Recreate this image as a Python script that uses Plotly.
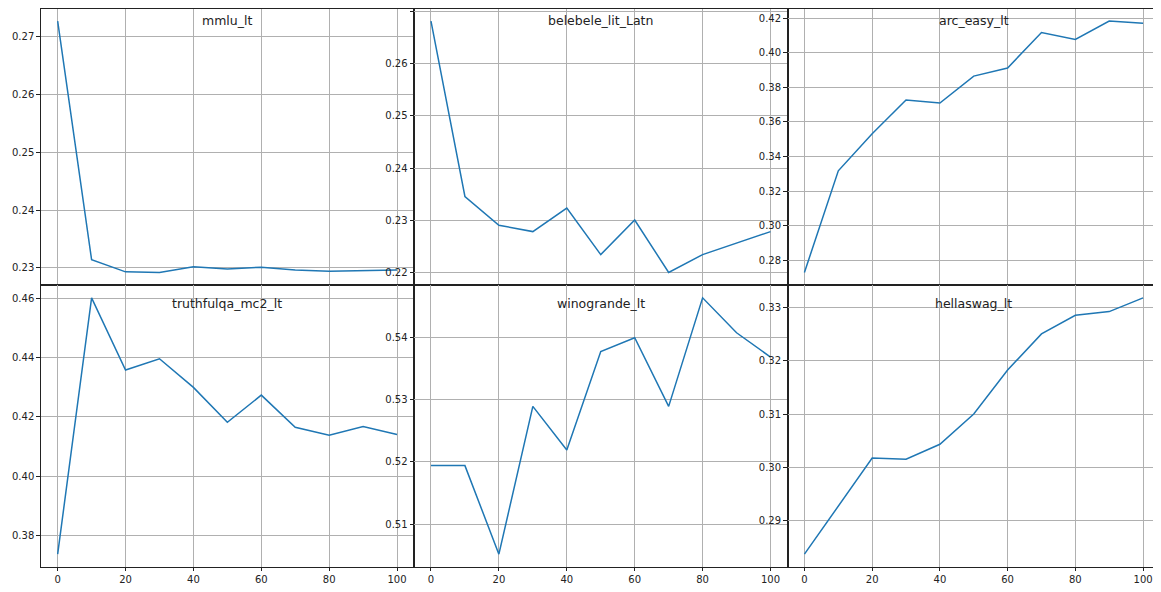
import plotly.graph_objects as go

steps = [0, 10, 20, 30, 40, 50, 60, 70, 80, 90, 100]

titles = ["mmlu_lt", "belebele_lit_Latn", "arc_easy_lt",
          "truthfulqa_mc2_lt", "winogrande_lt", "hellaswag_lt"]

mmlu_lt = [0.2727, 0.2314, 0.2293, 0.2292, 0.2302, 0.2298, 0.2301, 0.2296, 0.2294, 0.2295, 0.2296]
belebele_lit_Latn = [0.2681, 0.2346, 0.2291, 0.2279, 0.2324, 0.2235, 0.2301, 0.2201, 0.2235, 0.2257, 0.2279]
arc_easy_lt = [0.2728, 0.3317, 0.3532, 0.3728, 0.3710, 0.3866, 0.3913, 0.4119, 0.4078, 0.4185, 0.4173]
truthfulqa_mc2_lt = [0.3736, 0.4603, 0.4359, 0.4397, 0.4300, 0.4182, 0.4274, 0.4165, 0.4138, 0.4168, 0.4141]
winogrande_lt = [0.5194, 0.5194, 0.5052, 0.5289, 0.5219, 0.5377, 0.5399, 0.5289, 0.5463, 0.5407, 0.5368]
hellaswag_lt = [0.2836, 0.2927, 0.3017, 0.3015, 0.3043, 0.3100, 0.3183, 0.3251, 0.3286, 0.3293, 0.3319]

x_ticks = [0, 20, 40, 60, 80, 100]
y_ticks = [
    [0.23, 0.24, 0.25, 0.26, 0.27],
    [0.22, 0.23, 0.24, 0.25, 0.26, 0.27],
    [0.28, 0.30, 0.32, 0.34, 0.36, 0.38, 0.40, 0.42],
    [0.38, 0.40, 0.42, 0.44, 0.46],
    [0.51, 0.52, 0.53, 0.54],
    [0.29, 0.30, 0.31, 0.32, 0.33],
]

series = [mmlu_lt, belebele_lit_Latn, arc_easy_lt, truthfulqa_mc2_lt, winogrande_lt, hellaswag_lt]

# page body has an 8px margin; figure coordinates = window coordinates - 8
OFF = 8
W, H = 1161 - OFF, 592 - OFF
col_px = [(40.7, 414.0), (414.0, 787.5), (787.5, 1160.0)]
row_px = [(2.0, 285.0), (285.0, 567.0)]

font_family = "DejaVu Sans"
fig = go.Figure()
layout = dict(
    width=W, height=H, margin=dict(l=0, r=0, t=0, b=0),
    paper_bgcolor="white", plot_bgcolor="white", showlegend=False,
    font=dict(family=font_family, size=10, color="#222"),
)
annotations = []
for i, (name, vals) in enumerate(zip(titles, series)):
    r, c = divmod(i, 3)
    n = i + 1
    xa = "x" if n == 1 else f"x{n}"
    ya = "y" if n == 1 else f"y{n}"
    fig.add_trace(go.Scatter(x=steps, y=vals, mode="lines",
                             line=dict(color="#1f77b4", width=1.5),
                             xaxis=xa, yaxis=ya, hoverinfo="x+y"))
    x0, x1 = (v - OFF for v in col_px[c])
    y0, y1 = (max(v - OFF, 0.5) for v in row_px[r])
    lo, hi = min(vals), max(vals)
    pad = (hi - lo) * 0.05
    common = dict(showline=True, mirror=True, linecolor="#222", linewidth=0.9,
                  ticks="outside", ticklen=3.5, tickcolor="#222", tickwidth=0.9,
                  showgrid=True, gridcolor="#b0b0b0", gridwidth=0.8,
                  zeroline=False, tickfont=dict(family=font_family, size=10, color="#222"))
    layout[f"xaxis{n}"] = dict(common, domain=[x0 / W, min(x1 / W, 1.0)], anchor=ya,
                               range=[-5, 105], tickvals=x_ticks,
                               showticklabels=(r == 1))
    layout[f"yaxis{n}"] = dict(common, domain=[1 - y1 / H, 1 - y0 / H], anchor=xa,
                               range=[lo - pad, hi + pad], tickvals=y_ticks[i],
                               tickformat=".2f")
    annotations.append(dict(text=name, xref="paper", yref="paper",
                            x=(x0 + x1) / 2 / W, y=1 - (row_px[r][0] - OFF + 18.5) / H,
                            xanchor="center", yanchor="middle", showarrow=False,
                            font=dict(family=font_family, size=12.5, color="#222")))
layout["annotations"] = annotations
fig.update_layout(**layout)
fig.write_html("out.html")
